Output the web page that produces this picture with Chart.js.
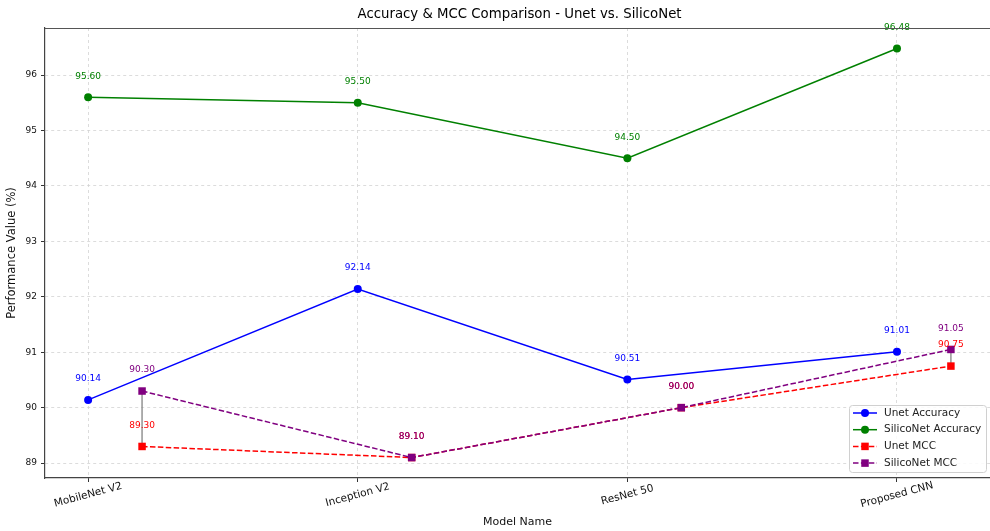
<!DOCTYPE html>
<html><head><meta charset="utf-8">
<script src="https://cdn.jsdelivr.net/npm/chart.js@4.4.1/dist/chart.umd.min.js"></script>
<style>html,body{margin:0;padding:0;background:#fff;overflow:hidden}</style>
</head><body>
<canvas id="c" width="990" height="531"></canvas>
<script>
const categories = ['MobileNet V2', 'Inception V2', 'ResNet 50', 'Proposed CNN'];
const unetAccuracy = [90.14, 92.14, 90.51, 91.01];
const siliconetAccuracy = [95.60, 95.50, 94.50, 96.48];
const unetMCC = [89.30, 89.10, 90.00, 90.75];
const siliconetMCC = [90.30, 89.10, 90.00, 91.05];
const yTicks = [89, 90, 91, 92, 93, 94, 95, 96];
const seriesNames = ['Unet Accuracy', 'SilicoNet Accuracy', 'Unet MCC', 'SilicoNet MCC'];
const titleText = 'Accuracy & MCC Comparison - Unet vs. SilicoNet';
const xTitle = 'Model Name';
const yTitle = 'Performance Value (%)';

const MCC_SHIFT = 0.2;
const FONT = "'DejaVu Sans', sans-serif";
const colors = ['#0000ff', '#008000', '#ff0000', '#800080'];
const dash = [5.5, 2.4];

function pts(vals, shift) { return vals.map((v, i) => ({x: i + shift, y: v})); }

const series = [
  {label: seriesNames[0], data: pts(unetAccuracy, 0), color: colors[0], style: 'circle', dashed: false, order: 4},
  {label: seriesNames[1], data: pts(siliconetAccuracy, 0), color: colors[1], style: 'circle', dashed: false, order: 3},
  {label: seriesNames[2], data: pts(unetMCC, MCC_SHIFT), color: colors[2], style: 'rect', dashed: true, order: 2},
  {label: seriesNames[3], data: pts(siliconetMCC, MCC_SHIFT), color: colors[3], style: 'rect', dashed: true, order: 1}
];

const datasets = [];
categories.forEach((c, i) => {
  datasets.push({
    label: '_conn' + i,
    data: [{x: i + MCC_SHIFT, y: unetMCC[i]}, {x: i + MCC_SHIFT, y: siliconetMCC[i]}],
    borderColor: 'rgba(128,128,128,0.85)', borderWidth: 1.5, pointRadius: 0,
    showLine: true, order: 10, isConn: true
  });
});
series.forEach(s => {
  datasets.push({
    label: s.label, data: s.data, borderColor: s.color, backgroundColor: s.color,
    borderWidth: 1.5, borderDash: s.dashed ? dash : [],
    pointStyle: s.style, pointRadius: s.style === 'rect' ? 5.3 : 4,
    pointBorderWidth: 0, pointBackgroundColor: s.color, pointBorderColor: s.color,
    showLine: true, tension: 0, order: s.order, isSeries: true
  });
});

const extras = {
  id: 'extras',
  afterDatasetsDraw(chart) {
    const ctx = chart.ctx;
    ctx.save();
    ctx.font = '9px ' + FONT;
    ctx.textAlign = 'center';
    ctx.textBaseline = 'middle';
    chart.data.datasets.forEach((ds, di) => {
      if (!ds.isSeries) return;
      const meta = chart.getDatasetMeta(di);
      meta.data.forEach((el, i) => {
        ctx.fillStyle = ds.borderColor;
        ctx.fillText(ds.data[i].y.toFixed(2), el.x, el.y - 21);
      });
    });
    ctx.restore();
  },
  afterDraw(chart) {
    const ctx = chart.ctx;
    const ca = chart.chartArea;
    const xs = chart.scales.x;
    ctx.save();
    // title centred over the (full, partly off-canvas) axes
    ctx.font = '13.3px ' + FONT;
    ctx.fillStyle = '#000';
    ctx.textAlign = 'center';
    ctx.textBaseline = 'middle';
    ctx.fillText(titleText, xs.getPixelForValue(1.6), 14.5);
    // top frame
    ctx.strokeStyle = '#555';
    ctx.lineWidth = 1.2;
    ctx.beginPath();
    ctx.moveTo(ca.left, Math.round(ca.top) + 0.5);
    ctx.lineTo(ca.right, Math.round(ca.top) + 0.5);
    ctx.stroke();
    // x tick labels rotated 15deg, centred on tick
    ctx.font = '10.5px ' + FONT;
    ctx.fillStyle = '#111';
    categories.forEach((c, i) => {
      const px = xs.getPixelForValue(i);
      ctx.save();
      ctx.translate(px, ca.bottom + 17);
      ctx.rotate(-15 * Math.PI / 180);
      ctx.fillText(c, 0, 0);
      ctx.restore();
    });
    // legend
    const bw = 137, bh = 67;
    const bx = ca.right - bw - 4, by = ca.bottom - bh - 6;
    ctx.fillStyle = 'rgba(255,255,255,0.85)';
    ctx.strokeStyle = '#d0d0d0';
    ctx.lineWidth = 1;
    ctx.beginPath();
    if (ctx.roundRect) ctx.roundRect(bx + 0.5, by + 0.5, bw, bh, 3); else ctx.rect(bx + 0.5, by + 0.5, bw, bh);
    ctx.fill();
    ctx.stroke();
    ctx.font = '10.5px ' + FONT;
    ctx.textAlign = 'left';
    ctx.textBaseline = 'middle';
    series.forEach((s, k) => {
      const y = by + 8 + k * 16.7;
      ctx.strokeStyle = s.color;
      ctx.lineWidth = 1.5;
      ctx.setLineDash(s.dashed ? dash : []);
      ctx.beginPath();
      ctx.moveTo(bx + 4, y);
      ctx.lineTo(bx + 28, y);
      ctx.stroke();
      ctx.setLineDash([]);
      ctx.fillStyle = s.color;
      if (s.style === 'circle') {
        ctx.beginPath();
        ctx.arc(bx + 16, y, 4, 0, Math.PI * 2);
        ctx.fill();
      } else {
        ctx.fillRect(bx + 16 - 3.75, y - 3.75, 7.5, 7.5);
      }
      ctx.fillStyle = '#222';
      ctx.fillText(s.label, bx + 35, y);
    });
    ctx.restore();
  }
};

new Chart(document.getElementById('c'), {
  type: 'scatter',
  data: {datasets},
  options: {
    responsive: false,
    animation: false,
    devicePixelRatio: 1,
    layout: {autoPadding: false, padding: {left: 0, right: 0, top: 28, bottom: 0}},
    plugins: {
      legend: {display: false},
      tooltip: {enabled: false},
      title: {display: false}
    },
    scales: {
      x: {
        type: 'linear', min: -0.16, max: 3.345,
        afterBuildTicks(scale) { scale.ticks = categories.map((c, i) => ({value: i})); },
        afterFit(scale) { scale.height = 53; },
        ticks: {display: false},
        grid: {color: '#d4d4d4', lineWidth: 0.8, tickLength: 4, tickColor: '#333', tickWidth: 1, tickBorderDash: []},
        border: {display: true, color: '#444', width: 1.2, dash: [3, 3]},
        title: {display: true, text: xTitle, color: '#111', font: {family: FONT, size: 11}, padding: {top: 0, bottom: 2}}
      },
      y: {
        type: 'linear', min: 88.731, max: 96.849,
        afterBuildTicks(scale) { scale.ticks = yTicks.map(v => ({value: v})); },
        afterFit(scale) { scale.width = 45; },
        ticks: {color: '#111', font: {family: FONT, size: 9}, padding: 4, callback: v => String(v)},
        grid: {color: '#d4d4d4', lineWidth: 0.8, tickLength: 4, tickColor: '#333', tickWidth: 1, tickBorderDash: []},
        border: {display: true, color: '#444', width: 1.2, dash: [3, 3]},
        title: {display: true, text: yTitle, color: '#111', font: {family: FONT, size: 11.5}, padding: {top: 5, bottom: 0}}
      }
    }
  },
  plugins: [extras]
});
</script>
</body></html>
